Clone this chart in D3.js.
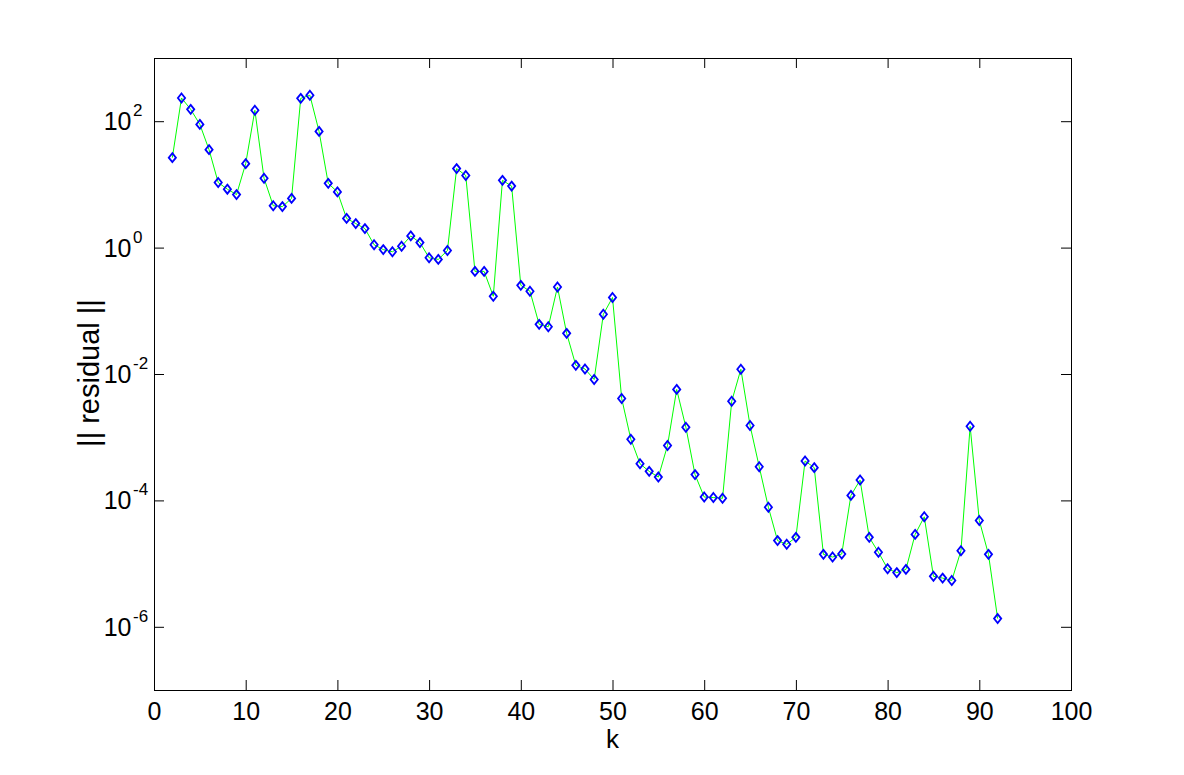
<!DOCTYPE html>
<html>
<head>
<meta charset="utf-8">
<script src="https://cdn.jsdelivr.net/npm/d3@7/dist/d3.min.js"></script>
<style>
  body { margin: 0; background: #fff; }
  svg { display: block; }
  text { font-family: "Liberation Sans", Arial, sans-serif; fill: #000; }
</style>
</head>
<body>
<svg id="chart" width="1184" height="775"></svg>
<script>
// iteration number
const kValues = [2, 3, 4, 5, 6, 7, 8, 9, 10, 11, 12, 13, 14, 15, 16, 17, 18, 19, 20,
  21, 22, 23, 24, 25, 26, 27, 28, 29, 30, 31, 32, 33, 34, 35, 36, 37, 38, 39, 40,
  41, 42, 43, 44, 45, 46, 47, 48, 49, 50, 51, 52, 53, 54, 55, 56, 57, 58, 59, 60,
  61, 62, 63, 64, 65, 66, 67, 68, 69, 70, 71, 72, 73, 74, 75, 76, 77, 78, 79, 80,
  81, 82, 83, 84, 85, 86, 87, 88, 89, 90, 91, 92];

// || residual || per iteration
const residuals = [26.5, 233, 154, 89, 35.5, 10.7, 8.4, 6.9, 21.3, 149,
  12.5, 4.6, 4.45, 6.0, 230, 257, 69, 10.4, 7.6, 2.9,
  2.4, 2.0, 1.11, 0.93, 0.86, 1.05, 1.53, 1.2, 0.69, 0.65,
  0.90, 17.8, 13.8, 0.42, 0.42, 0.17, 11.6, 9.4, 0.253, 0.204,
  0.061, 0.056, 0.238, 0.044, 0.0137, 0.012, 0.0082, 0.088, 0.162, 0.0041,
  0.00093, 0.00038, 0.000288, 0.000234, 0.00074, 0.0057, 0.00144, 0.000256, 0.000113, 0.000111,
  0.000108, 0.0037, 0.0119, 0.00153, 0.00034, 7.8e-5, 2.31e-5, 2.02e-5, 2.6e-5, 4.2e-4,
  3.3e-4, 1.4e-5, 1.27e-5, 1.42e-5, 1.2e-4, 2.1e-4, 2.6e-5, 1.51e-5, 8.3e-6, 7.2e-6,
  8.1e-6, 2.9e-5, 5.5e-5, 6.3e-6, 5.9e-6, 5.4e-6, 1.6e-5, 1.49e-3, 4.8e-5, 1.4e-5,
  1.35e-6];

const xTicks = [0, 10, 20, 30, 40, 50, 60, 70, 80, 90, 100];
const yExponents = [2, 0, -2, -4, -6];

const margin = { top: 58, right: 113, bottom: 85, left: 154 };
const width = 1184 - margin.left - margin.right;
const height = 775 - margin.top - margin.bottom;

const svg = d3.select("#chart");
svg.append("rect").attr("width", 1184).attr("height", 775).attr("fill", "#fff");

const g = svg.append("g").attr("transform", `translate(${margin.left},${margin.top})`);

const x = d3.scaleLinear().domain([0, 100]).range([0, width]);
const y = d3.scaleLog().domain([1e-7, 1e3]).range([height, 0]);

const yTickVals = yExponents.map(e => Math.pow(10, e));

// ticks pointing inward on all four sides
g.append("g")
    .attr("transform", `translate(0,${height})`)
    .call(d3.axisBottom(x).tickValues(xTicks).tickSizeInner(-10).tickSizeOuter(0).tickPadding(12))
    .call(a => a.select(".domain").remove())
    .call(a => a.selectAll("text").attr("font-size", 25).attr("font-family", "Liberation Sans, Arial, sans-serif"));

g.append("g")
    .call(d3.axisTop(x).tickValues(xTicks).tickSizeInner(-10).tickSizeOuter(0).tickFormat(""))
    .call(a => a.select(".domain").remove());

g.append("g")
    .call(d3.axisLeft(y).tickValues(yTickVals).tickSizeInner(-10).tickSizeOuter(0).tickFormat(""))
    .call(a => a.select(".domain").remove());

g.append("g")
    .attr("transform", `translate(${width},0)`)
    .call(d3.axisRight(y).tickValues(yTickVals).tickSizeInner(-10).tickSizeOuter(0).tickFormat(""))
    .call(a => a.select(".domain").remove());

g.selectAll(".tick line").attr("stroke", "#000");

// y tick labels: 10 with superscript exponent
const yLabels = g.append("g");
yExponents.forEach(e => {
    const ty = y(Math.pow(10, e));
    yLabels.append("text")
        .attr("x", -22.5)
        .attr("y", ty + 9)
        .attr("text-anchor", "end")
        .attr("font-size", 25)
        .text("10");
    yLabels.append("text")
        .attr("x", -21)
        .attr("y", ty - 5)
        .attr("font-size", 17)
        .text(e < 0 ? "-" + Math.abs(e) : String(e));
});

// box
g.append("rect")
    .attr("width", width)
    .attr("height", height)
    .attr("fill", "none")
    .attr("stroke", "#000")
    .attr("stroke-width", 1)
    .attr("shape-rendering", "crispEdges");

const pts = kValues.map((k, i) => ({ k: k, r: residuals[i] }));

const line = d3.line()
    .x(d => x(d.k))
    .y(d => y(d.r));

g.append("path")
    .datum(pts)
    .attr("d", line)
    .attr("fill", "none")
    .attr("stroke", "#00ff00")
    .attr("stroke-width", 1);

g.selectAll(".marker")
    .data(pts)
    .enter().append("path")
    .attr("class", "marker")
    .attr("transform", d => `translate(${x(d.k)},${y(d.r)})`)
    .attr("d", "M0,-4.5L3.6,0L0,4.5L-3.6,0Z")
    .attr("fill", "none")
    .attr("stroke", "#0000ff")
    .attr("stroke-width", 1.8);

// axis labels
svg.append("text")
    .attr("x", margin.left + width / 2)
    .attr("y", 748)
    .attr("text-anchor", "middle")
    .attr("font-size", 26)
    .text("k");

svg.append("text")
    .attr("transform", `translate(99,373) rotate(-90)`)
    .attr("text-anchor", "middle")
    .attr("font-size", 29)
    .text("|| residual ||");
</script>
</body>
</html>
